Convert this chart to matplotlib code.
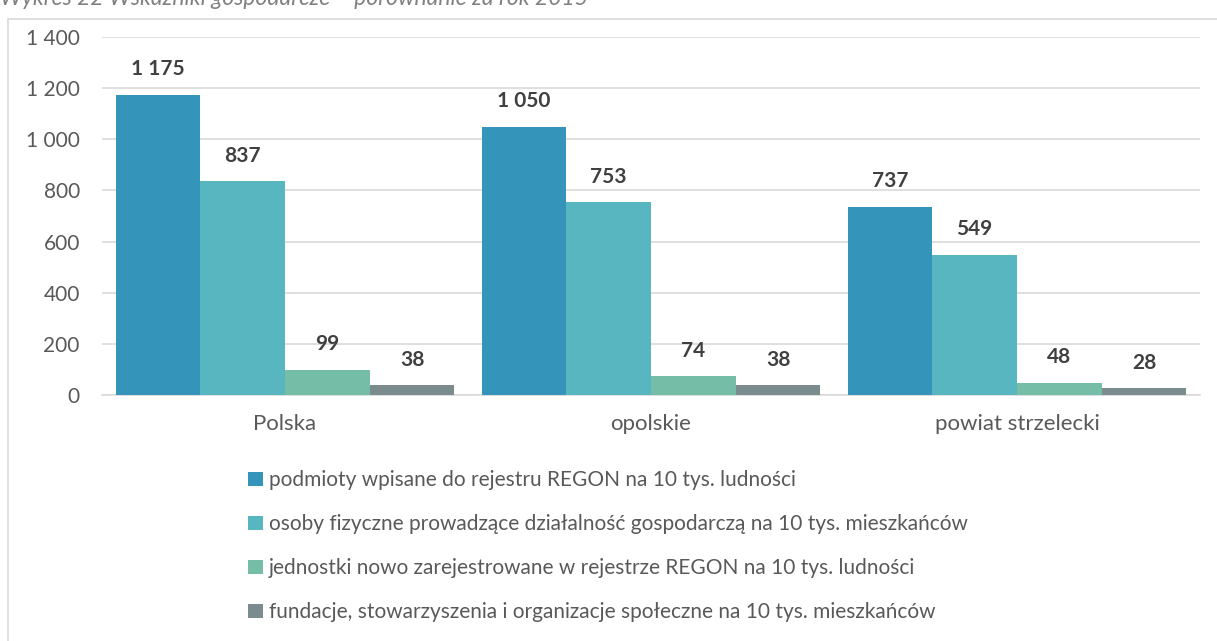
import numpy as np
import matplotlib.pyplot as plt
from matplotlib.patches import Rectangle

plt.rcParams['font.family'] = ['Lato', 'DejaVu Sans']

# data
categories = ['Polska', 'opolskie', 'powiat strzelecki']
series_names = [
    'podmioty wpisane do rejestru REGON na 10 tys. ludności',
    'osoby fizyczne prowadzące działalność gospodarczą na 10 tys. mieszkańców',
    'jednostki nowo zarejestrowane w rejestrze REGON na 10 tys. ludności',
    'fundacje, stowarzyszenia i organizacje społeczne na 10 tys. mieszkańców',
]
regon = [1175, 1050, 737]
osoby = [837, 753, 549]
nowe = [99, 74, 48]
fundacje = [38, 38, 28]
yticks = [0, 200, 400, 600, 800, 1000, 1200, 1400]
ytick_labels = ['0', '200', '400', '600', '800', '1 000', '1 200', '1 400']

colors = ['#3494BA', '#58B6C0', '#75BDA7', '#7A8C8E']
text_col = '#595959'

W, H = 1217, 641
fig = plt.figure(figsize=(W / 100, H / 100), dpi=100)

# chart frame (cut off on right/bottom)
fig.patches.append(Rectangle((8 / W, -0.1), 1.2, 1 - 19 / H + 0.1,
                             transform=fig.transFigure, fill=False,
                             edgecolor='#D9D9D9', linewidth=1.2))
fig.text(0, 1 - 5 / H, 'Wykres 22 Wskaźniki gospodarcze – porównanie za rok 2015',
         fontsize=16.5, style='italic', color='#808080', va='baseline')

ax = fig.add_axes([102 / W, 246 / H, 1098 / W, 358 / H])

x = np.arange(len(categories))
bw = 0.2315
all_series = [regon, osoby, nowe, fundacje]
handles = []
for i, vals in enumerate(all_series):
    pos = x + (i - 1.5) * bw
    b = ax.bar(pos, vals, width=bw, color=colors[i], label=series_names[i], zorder=3)
    handles.append(b)
    for p, v in zip(pos, vals):
        lab = f'{v:,}'.replace(',', ' ')
        ax.annotate(lab, (p, v), xytext=(0, 11), textcoords='offset points',
                    ha='center', va='bottom', fontsize=15, fontweight='bold',
                    color='#404040')

ax.set_xlim(-0.5, 2.5)
ax.set_ylim(0, 1400)
ax.set_yticks(yticks)
ax.set_yticklabels(ytick_labels)
ax.set_xticks(x)
ax.set_xticklabels(categories)
ax.grid(axis='y', color='#D9D9D9', linewidth=1.2, zorder=0)
for s in ['top', 'right', 'left']:
    ax.spines[s].set_visible(False)
ax.spines['bottom'].set_color('#D9D9D9')
ax.spines['bottom'].set_linewidth(1.2)
ax.tick_params(axis='both', length=0, colors=text_col)
ax.tick_params(axis='y', labelsize=15, pad=16)
ax.tick_params(axis='x', labelsize=16, pad=14)

fig.legend(handles=handles, labels=series_names, loc='upper left',
           bbox_to_anchor=(240 / W, 1 - 462 / H), ncol=1, frameon=False,
           fontsize=15, labelcolor=text_col, handlelength=0.7, handleheight=0.7,
           handletextpad=0.3, labelspacing=1.15, borderaxespad=0)

fig.savefig('out.png', dpi=100)
